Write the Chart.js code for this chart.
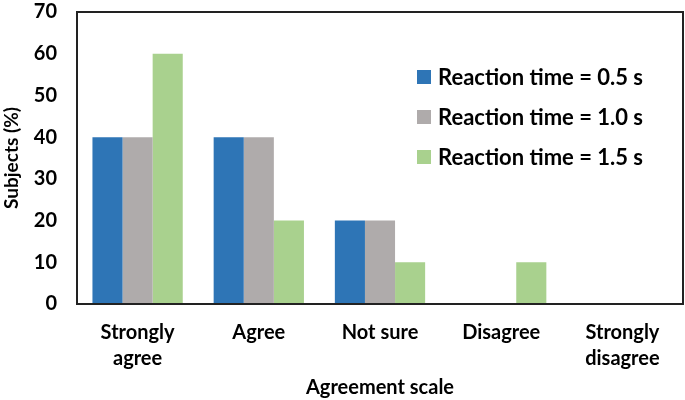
<!DOCTYPE html>
<html>
<head>
<meta charset="utf-8">
<script src="https://cdn.jsdelivr.net/npm/chart.js@4"></script>
<style>
  html, body { margin: 0; padding: 0; background: #fff; }
  #wrap { width: 685px; height: 400px; position: relative; }
</style>
</head>
<body>
<div id="wrap"><canvas id="chart"></canvas></div>
<script>
const categories = [['Strongly', 'agree'], 'Agree', 'Not sure', 'Disagree', ['Strongly', 'disagree']];
const seriesNames = ['Reaction time = 0.5 s', 'Reaction time = 1.0 s', 'Reaction time = 1.5 s'];
const rt05 = [40, 40, 20, 0, 0];
const rt10 = [40, 40, 20, 0, 0];
const rt15 = [60, 20, 10, 10, 0];
const colors = ['#2E75B6', '#AFABAB', '#A9D18E'];

const fontFamily = 'Lato, "Open Sans", sans-serif';

// box around plot + legend drawn inside the chart area
const frameAndLegend = {
  id: 'frameAndLegend',
  afterDraw(chart) {
    const { ctx, chartArea: a } = chart;
    ctx.save();
    ctx.strokeStyle = '#222';
    ctx.lineWidth = 2;
    ctx.strokeRect(a.left, a.top, a.right - a.left, a.bottom - a.top);

    ctx.font = 'bold 22px ' + fontFamily;
    ctx.textBaseline = 'middle';
    chart.data.datasets.forEach((ds, i) => {
      const y = 77 + i * 40;
      ctx.fillStyle = ds.backgroundColor;
      ctx.fillRect(417, y - 7, 14, 14);
      ctx.fillStyle = '#000';
      ctx.fillText(ds.label, 438, y + 1);
    });
    ctx.restore();
  }
};

new Chart(document.getElementById('chart'), {
  type: 'bar',
  data: {
    labels: categories,
    datasets: [
      { label: seriesNames[0], data: rt05, backgroundColor: colors[0] },
      { label: seriesNames[1], data: rt10, backgroundColor: colors[1] },
      { label: seriesNames[2], data: rt15, backgroundColor: colors[2] }
    ]
  },
  options: {
    responsive: true,
    maintainAspectRatio: false,
    animation: false,
    layout: { padding: { left: 0, right: 2, top: 12, bottom: 0 } },
    datasets: { bar: { categoryPercentage: 0.745, barPercentage: 1 } },
    plugins: { legend: { display: false }, tooltip: { enabled: false } },
    scales: {
      x: {
        grid: { display: false },
        border: { display: false },
        ticks: { color: '#000', font: { family: fontFamily, size: 20, weight: 'bold', lineHeight: 1.3 }, padding: 8, maxRotation: 0 },
        title: { display: true, text: 'Agreement scale', color: '#000', font: { family: fontFamily, size: 20, weight: 'bold' }, padding: { top: 2, bottom: 0 } },
        afterFit(scale) { scale.height = 96; scale.paddingLeft = 0; scale.paddingRight = 0; }
      },
      y: {
        min: 0,
        max: 70,
        grid: { display: false },
        border: { display: false },
        ticks: { stepSize: 10, color: '#000', font: { family: fontFamily, size: 20, weight: 'bold' }, padding: 12 },
        title: { display: true, text: 'Subjects (%)', color: '#000', font: { family: fontFamily, size: 19, weight: 'bold' }, padding: { top: 0, bottom: 0 } },
        afterFit(scale) { scale.width = 77; scale.paddingTop = 0; scale.paddingBottom = 0; }
      }
    }
  },
  plugins: [frameAndLegend]
});
</script>
</body>
</html>
